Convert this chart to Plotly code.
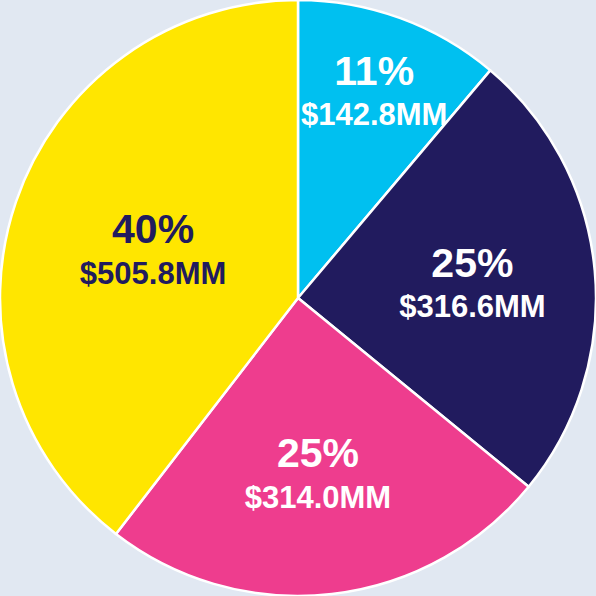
import plotly.graph_objects as go

# Reparto por segmento (millones de dólares)
segmentos = ['Segmento A', 'Segmento B', 'Segmento C', 'Segmento D']
valores = [142.8, 316.6, 314.0, 505.8]
colores = ['#00C0F0', '#211B5E', '#EE3D8E', '#FFE600']
color_texto = ['white', 'white', 'white', '#211B5E']

fig = go.Figure()

fig.add_trace(go.Pie(
    labels=segmentos,
    values=valores,
    sort=False,
    direction='clockwise',
    rotation=0,
    marker=dict(colors=colores, line=dict(color='white', width=2.5)),
    texttemplate='<span style="font-size:41px">%{percent:.0%}</span><br>'
                 '<span style="font-size:31px">$%{value:.1f}MM</span>',
    textposition='inside',
    insidetextorientation='horizontal',
    textfont=dict(family='Liberation Sans, Arial', color=color_texto, size=31, weight='bold'),
    hoverinfo='skip',
    showlegend=False,
))

fig.update_layout(
    width=596,
    height=596,
    margin=dict(l=0, r=0, t=0, b=0),
    paper_bgcolor='#E1E8F2',
    plot_bgcolor='#E1E8F2',
    showlegend=False,
    uniformtext=dict(minsize=31, mode='show'),
)

# quitar el margen del body para que el gráfico ocupe toda la ventana
fig.write_html("out.html", config={'displayModeBar': False},
               post_script="document.body.style.margin='0';")
